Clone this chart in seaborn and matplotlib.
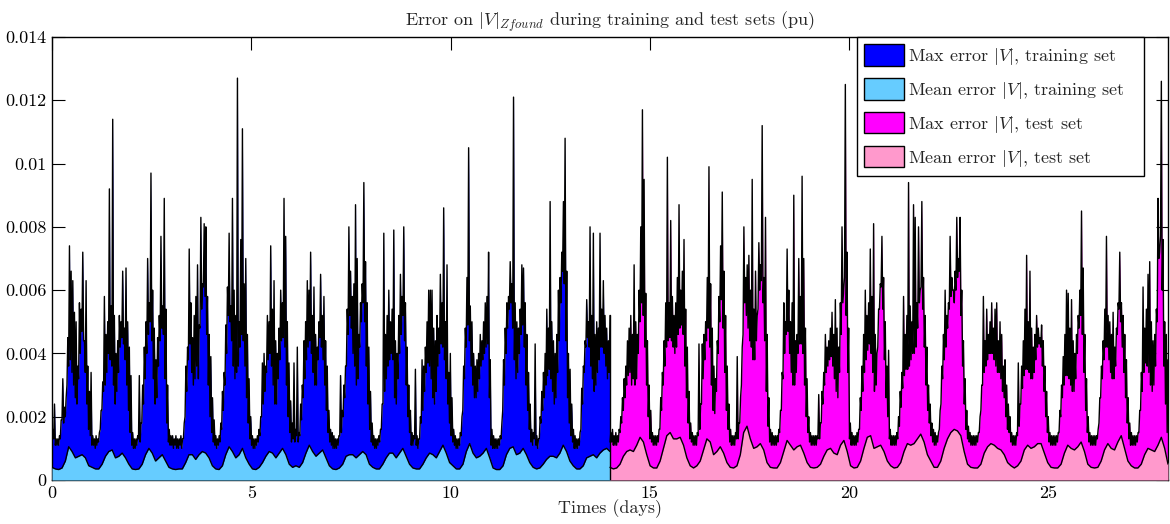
import numpy as np
import matplotlib
matplotlib.use("Agg")
import matplotlib.pyplot as plt
from matplotlib.patches import Patch
import seaborn as sns

# ---------------- data (values in 1e-3 pu) ----------------
# Hourly readings per day: "peak" = top of the spiky black max line within the hour,
# "base" = level of the solid filled max-error region within the hour.
train_max_peak = [
    [1.6, 2.4, 1.3, 1.3, 1.4, 1.9, 3.2, 2.3, 2.6, 4.5, 7.4, 6.6, 6.3, 5.3, 5.0, 3.6, 5.6, 5.4, 7.2, 4.4, 6.3, 3.6, 2.8, 3.4],
    [1.4, 1.3, 1.4, 1.3, 1.5, 2.2, 3.1, 5.8, 4.6, 5.0, 9.2, 5.5, 11.4, 5.2, 4.0, 4.4, 5.2, 5.0, 6.6, 4.8, 6.7, 5.0, 4.2, 3.3],
    [1.5, 1.3, 1.3, 1.4, 3.3, 1.8, 3.0, 4.2, 5.0, 7.0, 5.6, 9.7, 6.0, 4.8, 3.8, 4.5, 5.2, 7.7, 5.5, 8.9, 5.4, 3.0, 1.6, 1.4],
    [1.4, 1.3, 1.4, 1.3, 1.3, 1.4, 1.3, 1.8, 3.6, 4.2, 7.3, 5.6, 4.5, 5.2, 5.8, 6.8, 4.9, 8.3, 6.2, 8.1, 8.0, 5.8, 4.6, 3.9],
    [2.6, 1.9, 1.4, 1.3, 1.4, 1.8, 2.8, 3.4, 4.9, 6.1, 7.8, 5.5, 8.9, 6.0, 5.2, 12.7, 5.0, 7.6, 11.1, 6.2, 7.0, 4.6, 3.2, 2.0],
    [1.4, 1.3, 1.3, 1.4, 1.6, 2.0, 3.7, 4.0, 3.6, 5.2, 5.0, 7.4, 5.4, 6.3, 4.4, 4.0, 4.8, 6.0, 5.6, 8.9, 7.7, 5.0, 3.7, 2.5],
    [1.8, 3.7, 1.6, 4.2, 1.5, 2.4, 3.0, 4.4, 5.0, 6.3, 6.0, 7.2, 5.2, 6.1, 4.6, 4.2, 5.0, 6.5, 5.2, 5.8, 4.4, 3.6, 2.2, 1.6],
    [1.5, 1.4, 1.3, 1.3, 1.4, 3.3, 2.2, 3.0, 3.6, 5.4, 8.0, 6.6, 5.8, 6.2, 8.7, 7.0, 4.6, 5.6, 6.2, 9.4, 6.9, 5.6, 4.2, 2.8],
    [1.8, 1.4, 1.3, 1.3, 1.4, 1.6, 2.4, 7.8, 4.6, 5.2, 6.0, 5.0, 5.4, 7.9, 4.4, 4.0, 5.2, 6.5, 5.8, 8.0, 5.6, 4.2, 3.0, 2.2],
    [1.5, 1.4, 3.5, 1.4, 1.3, 2.0, 3.8, 3.6, 4.2, 5.0, 6.0, 6.0, 6.0, 4.8, 4.4, 5.2, 4.8, 6.5, 5.6, 8.6, 5.0, 6.8, 3.4, 4.0],
    [2.6, 1.6, 1.4, 1.3, 1.3, 1.5, 2.0, 3.6, 4.8, 6.4, 10.5, 5.5, 5.0, 4.0, 3.6, 3.8, 4.0, 4.6, 4.4, 5.0, 5.6, 5.8, 7.2, 3.8],
    [1.6, 1.4, 1.3, 1.3, 1.3, 1.4, 1.8, 3.8, 4.8, 5.6, 5.8, 6.9, 6.2, 12.1, 5.6, 5.0, 4.8, 5.4, 6.8, 6.7, 5.6, 4.6, 3.4, 2.4],
    [1.6, 1.5, 4.3, 1.4, 1.3, 2.0, 2.8, 3.4, 4.0, 5.4, 4.8, 8.8, 5.0, 4.4, 4.0, 4.6, 6.0, 6.4, 7.2, 8.8, 10.8, 6.6, 4.0, 3.5],
    [2.4, 1.6, 1.4, 1.3, 1.3, 1.5, 2.9, 3.6, 4.4, 5.7, 5.0, 8.0, 5.2, 7.8, 4.6, 5.0, 4.8, 7.8, 5.4, 6.3, 5.2, 4.8, 4.4, 5.2],
]
train_max_base = [
    [1.2, 1.3, 1.1, 1.1, 1.1, 1.3, 1.9, 1.8, 2.0, 3.0, 3.6, 3.8, 3.4, 3.0, 2.6, 2.4, 3.2, 4.0, 4.7, 4.4, 3.4, 2.4, 1.6, 1.4],
    [1.1, 1.1, 1.0, 1.1, 1.2, 1.6, 2.2, 2.8, 3.0, 3.4, 4.0, 3.8, 3.6, 3.0, 2.4, 2.8, 3.4, 4.2, 4.5, 4.3, 3.8, 3.0, 2.2, 1.5],
    [1.1, 1.0, 1.0, 1.1, 1.3, 1.2, 1.8, 2.4, 3.2, 4.0, 4.6, 5.0, 4.4, 3.2, 2.4, 2.6, 3.6, 4.4, 4.8, 4.6, 3.2, 1.8, 1.2, 1.1],
    [1.1, 1.0, 1.1, 1.0, 1.0, 1.1, 1.0, 1.3, 2.0, 2.8, 3.8, 4.3, 3.4, 3.0, 3.2, 3.6, 3.2, 4.8, 5.4, 6.1, 5.8, 4.6, 3.0, 2.0],
    [1.5, 1.2, 1.1, 1.0, 1.1, 1.2, 1.6, 2.2, 3.0, 4.0, 5.2, 5.0, 4.4, 3.6, 3.2, 3.4, 3.6, 4.2, 4.6, 4.4, 3.6, 2.6, 1.8, 1.3],
    [1.1, 1.0, 1.0, 1.1, 1.2, 1.4, 2.0, 2.4, 2.8, 3.4, 3.8, 4.0, 3.6, 3.0, 2.4, 2.4, 3.2, 3.8, 4.4, 4.5, 4.2, 3.0, 2.0, 1.5],
    [1.2, 1.3, 1.2, 1.4, 1.2, 1.4, 1.9, 2.6, 3.2, 3.8, 4.2, 4.4, 4.0, 3.4, 3.0, 3.0, 3.8, 4.5, 4.2, 3.8, 3.0, 2.2, 1.5, 1.2],
    [1.1, 1.0, 1.0, 1.0, 1.1, 1.4, 1.5, 2.0, 2.6, 3.6, 4.6, 5.2, 4.8, 4.0, 3.6, 3.0, 3.2, 4.2, 5.0, 5.6, 5.0, 3.6, 2.4, 1.6],
    [1.2, 1.1, 1.0, 1.0, 1.1, 1.2, 1.6, 2.4, 2.8, 3.2, 3.6, 3.8, 4.0, 3.8, 2.6, 2.4, 3.2, 4.0, 4.6, 5.2, 4.4, 3.0, 2.0, 1.5],
    [1.1, 1.1, 1.3, 1.1, 1.0, 1.3, 1.8, 2.2, 2.8, 3.4, 3.7, 3.6, 3.2, 2.6, 2.4, 2.8, 3.6, 4.0, 4.3, 4.2, 3.8, 3.2, 2.4, 1.8],
    [1.4, 1.2, 1.1, 1.0, 1.0, 1.1, 1.4, 2.2, 3.2, 4.2, 4.9, 4.4, 3.6, 3.0, 2.6, 2.6, 2.8, 3.2, 3.6, 3.8, 4.0, 4.2, 4.3, 2.6],
    [1.1, 1.0, 1.0, 1.0, 1.0, 1.1, 1.3, 2.2, 3.0, 4.0, 4.8, 5.4, 5.6, 4.8, 3.8, 3.2, 3.4, 4.0, 4.6, 4.9, 4.2, 3.0, 2.2, 1.6],
    [1.2, 1.1, 1.3, 1.1, 1.0, 1.3, 1.8, 2.2, 2.6, 3.0, 3.3, 3.5, 3.2, 2.8, 2.4, 2.6, 3.4, 4.4, 5.6, 6.6, 6.2, 4.4, 2.6, 1.8],
    [1.4, 1.2, 1.0, 1.0, 1.0, 1.1, 1.6, 2.4, 3.4, 4.2, 4.5, 4.2, 3.6, 3.2, 2.8, 3.0, 3.4, 3.8, 4.2, 4.2, 4.0, 3.6, 3.2, 3.4],
]
# Mean error, one reading every 2 hours
train_mean = [
    [0.40, 0.35, 0.33, 0.38, 0.60, 1.05, 0.90, 0.70, 0.75, 0.80, 0.70, 0.45],
    [0.40, 0.35, 0.35, 0.50, 0.75, 0.90, 0.95, 0.70, 0.75, 0.85, 0.70, 0.50],
    [0.35, 0.33, 0.35, 0.50, 0.80, 1.00, 0.85, 0.60, 0.70, 0.80, 0.60, 0.40],
    [0.35, 0.33, 0.35, 0.35, 0.55, 0.80, 0.80, 0.65, 0.80, 0.90, 0.85, 0.70],
    [0.45, 0.35, 0.33, 0.45, 0.80, 1.05, 0.90, 0.70, 0.80, 1.00, 0.70, 0.50],
    [0.35, 0.33, 0.40, 0.55, 0.75, 0.90, 0.85, 0.70, 0.85, 1.00, 0.80, 0.50],
    [0.40, 0.45, 0.40, 0.55, 0.85, 1.10, 0.90, 0.75, 0.85, 0.95, 0.70, 0.45],
    [0.35, 0.33, 0.38, 0.50, 0.75, 0.80, 0.80, 0.70, 0.80, 0.90, 0.80, 0.50],
    [0.40, 0.35, 0.35, 0.50, 0.70, 0.85, 0.85, 0.70, 0.85, 1.00, 0.75, 0.50],
    [0.38, 0.35, 0.35, 0.50, 0.70, 0.85, 0.80, 0.70, 0.90, 1.10, 0.85, 0.55],
    [0.45, 0.35, 0.35, 0.50, 0.90, 1.15, 0.85, 0.70, 0.75, 0.85, 1.00, 0.70],
    [0.38, 0.33, 0.33, 0.45, 0.80, 1.00, 1.05, 0.80, 0.85, 1.00, 0.80, 0.55],
    [0.40, 0.35, 0.38, 0.50, 0.65, 0.75, 0.75, 0.70, 0.85, 1.10, 0.90, 0.60],
    [0.45, 0.35, 0.35, 0.45, 0.70, 0.75, 0.80, 0.70, 0.85, 0.95, 1.00, 0.90],
]
test_max_peak = [
    [1.5, 1.6, 1.4, 1.5, 1.4, 1.6, 2.0, 2.6, 3.2, 3.6, 4.4, 4.8, 5.2, 4.6, 6.8, 5.0, 4.6, 6.0, 8.0, 11.7, 9.5, 5.9, 4.4, 3.0],
    [2.2, 1.5, 1.4, 1.4, 1.4, 1.6, 2.6, 3.4, 4.4, 5.6, 10.2, 5.6, 8.2, 5.8, 5.2, 5.6, 6.4, 8.7, 6.0, 6.6, 7.6, 5.4, 4.2, 2.8],
    [1.8, 1.5, 1.4, 1.4, 1.5, 4.3, 2.4, 4.3, 4.6, 5.0, 6.4, 9.9, 6.2, 4.8, 3.6, 3.2, 4.4, 5.8, 7.4, 9.1, 6.6, 5.2, 3.6, 2.4],
    [1.6, 1.4, 1.4, 1.5, 3.9, 1.8, 2.6, 4.2, 8.0, 6.4, 6.8, 7.1, 6.0, 9.5, 5.4, 6.6, 5.2, 7.5, 6.8, 11.2, 6.4, 8.3, 4.6, 2.6],
    [1.6, 1.5, 1.4, 1.4, 1.4, 1.6, 2.2, 3.4, 5.6, 5.0, 7.3, 6.0, 5.0, 5.6, 9.0, 4.4, 4.6, 7.0, 5.8, 9.6, 7.0, 4.8, 3.2, 2.0],
    [1.5, 1.4, 1.4, 1.4, 1.4, 2.7, 1.8, 2.8, 3.4, 4.6, 4.2, 4.4, 4.8, 5.3, 4.6, 5.7, 4.8, 4.2, 5.6, 8.0, 6.0, 12.5, 7.2, 4.8],
    [1.8, 1.5, 1.4, 1.4, 1.5, 1.6, 2.6, 3.6, 4.6, 6.0, 5.2, 5.6, 7.3, 5.8, 8.1, 4.6, 4.0, 5.4, 6.2, 7.7, 6.4, 5.0, 3.6, 4.1],
    [1.6, 1.4, 1.4, 1.4, 1.5, 2.0, 2.8, 3.4, 5.8, 4.6, 5.2, 9.4, 5.5, 5.0, 8.7, 8.3, 5.6, 8.0, 6.0, 8.8, 6.4, 5.2, 4.2, 3.0],
    [2.4, 1.8, 1.6, 1.5, 1.4, 1.5, 2.2, 3.6, 4.6, 6.0, 5.2, 5.6, 7.7, 6.4, 6.0, 6.6, 8.3, 7.0, 8.3, 6.0, 4.4, 3.2, 2.2, 1.7],
    [1.5, 1.4, 1.4, 1.4, 1.4, 1.5, 2.0, 3.0, 5.8, 4.4, 5.4, 4.6, 5.0, 5.6, 4.8, 5.4, 5.6, 4.4, 5.0, 4.6, 3.6, 3.8, 3.0, 2.4],
    [2.0, 1.5, 1.4, 1.4, 1.5, 3.7, 2.4, 3.6, 4.4, 5.4, 7.1, 5.0, 6.6, 4.8, 4.2, 4.6, 5.2, 4.8, 4.5, 4.9, 4.4, 3.6, 2.8, 2.0],
    [1.5, 1.4, 1.4, 1.4, 1.4, 1.5, 2.2, 3.0, 3.9, 4.6, 6.0, 5.9, 4.8, 5.7, 4.4, 4.0, 4.6, 5.2, 6.0, 8.5, 6.7, 4.6, 3.2, 2.0],
    [1.5, 1.4, 1.4, 1.4, 1.4, 1.6, 2.6, 3.6, 4.4, 5.4, 7.7, 5.2, 5.0, 4.6, 5.3, 4.2, 4.8, 5.6, 7.2, 5.6, 5.2, 4.6, 3.8, 2.6],
    [1.8, 1.5, 1.4, 1.4, 1.4, 1.5, 2.2, 3.4, 6.1, 4.8, 5.4, 6.5, 6.9, 5.0, 4.4, 4.6, 5.4, 8.9, 7.2, 12.6, 7.6, 5.0, 4.6, 3.8],
]
test_max_base = [
    [1.2, 1.2, 1.1, 1.1, 1.1, 1.2, 1.5, 1.8, 2.2, 2.6, 3.0, 3.3, 3.4, 3.0, 3.2, 3.0, 3.2, 4.0, 5.0, 5.6, 5.2, 4.2, 3.0, 2.0],
    [1.3, 1.2, 1.1, 1.1, 1.1, 1.2, 1.6, 2.2, 3.0, 3.6, 4.2, 4.4, 4.5, 4.4, 4.2, 4.0, 4.2, 4.6, 4.8, 4.9, 4.6, 3.6, 2.6, 1.8],
    [1.3, 1.2, 1.1, 1.1, 1.1, 1.4, 1.6, 2.4, 3.2, 3.8, 4.4, 4.8, 4.2, 3.0, 2.2, 2.1, 2.8, 4.0, 5.0, 5.7, 4.8, 3.4, 2.2, 1.6],
    [1.2, 1.1, 1.1, 1.1, 1.3, 1.3, 1.8, 3.0, 4.6, 5.6, 5.2, 4.8, 4.4, 4.2, 3.8, 3.8, 4.4, 5.4, 6.0, 6.3, 5.6, 4.4, 2.8, 1.7],
    [1.2, 1.1, 1.1, 1.1, 1.1, 1.2, 1.5, 2.2, 3.2, 4.0, 4.6, 4.7, 4.0, 3.4, 3.0, 3.0, 3.4, 4.0, 4.3, 4.3, 4.0, 3.0, 2.0, 1.5],
    [1.2, 1.1, 1.1, 1.1, 1.1, 1.3, 1.3, 1.8, 2.4, 3.0, 3.4, 3.6, 3.8, 3.9, 3.6, 3.2, 2.8, 2.6, 3.4, 4.6, 5.6, 6.4, 5.2, 3.4],
    [1.3, 1.1, 1.1, 1.1, 1.1, 1.2, 1.6, 2.2, 2.8, 3.4, 3.8, 4.1, 4.3, 4.0, 3.4, 2.8, 3.0, 4.2, 5.4, 6.1, 5.4, 3.8, 2.6, 2.0],
    [1.3, 1.1, 1.1, 1.1, 1.1, 1.3, 1.7, 2.3, 2.9, 3.3, 3.5, 3.5, 3.6, 3.8, 4.0, 4.0, 4.2, 4.8, 5.6, 6.1, 5.4, 4.2, 3.0, 2.2],
    [1.8, 1.4, 1.2, 1.1, 1.1, 1.2, 1.6, 2.4, 3.2, 3.8, 4.2, 4.8, 5.4, 5.8, 6.0, 5.6, 6.0, 6.4, 6.6, 5.2, 3.6, 2.4, 1.6, 1.3],
    [1.2, 1.1, 1.1, 1.1, 1.1, 1.2, 1.5, 2.2, 3.0, 3.4, 3.6, 3.8, 4.0, 4.0, 4.0, 3.8, 3.6, 3.4, 3.4, 3.2, 2.8, 2.6, 2.0, 1.6],
    [1.5, 1.2, 1.1, 1.1, 1.1, 1.4, 1.7, 2.4, 2.9, 3.3, 3.5, 3.5, 3.4, 3.2, 3.2, 3.4, 3.8, 4.2, 4.3, 4.2, 3.6, 2.8, 2.0, 1.5],
    [1.2, 1.1, 1.1, 1.1, 1.1, 1.2, 1.5, 2.0, 2.6, 3.0, 3.3, 3.3, 3.2, 3.0, 2.8, 2.8, 3.2, 4.0, 4.8, 5.2, 4.6, 3.4, 2.2, 1.5],
    [1.2, 1.1, 1.1, 1.1, 1.1, 1.3, 1.8, 2.6, 3.2, 3.8, 4.2, 4.2, 3.8, 3.4, 3.2, 3.2, 3.6, 4.6, 5.4, 5.0, 4.2, 3.4, 2.6, 1.8],
    [1.3, 1.1, 1.1, 1.1, 1.1, 1.2, 1.5, 2.2, 2.8, 3.4, 3.7, 3.6, 3.4, 3.0, 2.8, 3.0, 3.6, 5.0, 7.0, 7.7, 6.0, 3.6, 2.4, 1.5],
]
test_mean = [
    [0.40, 0.35, 0.38, 0.50, 0.75, 0.90, 0.95, 0.90, 1.10, 1.35, 1.20, 0.80],
    [0.45, 0.38, 0.38, 0.60, 1.00, 1.40, 1.50, 1.30, 1.30, 1.35, 1.10, 0.70],
    [0.45, 0.38, 0.45, 0.60, 0.95, 1.30, 1.20, 0.80, 0.90, 1.05, 0.85, 0.55],
    [0.40, 0.38, 0.45, 0.80, 1.50, 1.70, 1.30, 1.00, 1.05, 1.15, 0.95, 0.55],
    [0.40, 0.38, 0.38, 0.55, 0.90, 1.25, 1.10, 0.95, 1.05, 1.10, 0.85, 0.55],
    [0.40, 0.38, 0.40, 0.50, 0.75, 0.95, 1.00, 0.85, 0.80, 1.10, 1.25, 0.90],
    [0.45, 0.38, 0.40, 0.60, 1.00, 1.35, 1.40, 1.00, 1.05, 1.10, 0.90, 0.60],
    [0.45, 0.38, 0.40, 0.55, 0.90, 1.15, 1.10, 1.15, 1.30, 1.45, 1.20, 0.80],
    [0.60, 0.40, 0.40, 0.60, 1.00, 1.30, 1.50, 1.60, 1.55, 1.40, 0.90, 0.50],
    [0.40, 0.38, 0.38, 0.50, 0.85, 1.05, 1.15, 1.10, 1.00, 0.95, 0.80, 0.55],
    [0.45, 0.38, 0.45, 0.60, 0.95, 1.10, 1.00, 1.05, 1.15, 1.15, 0.85, 0.55],
    [0.40, 0.38, 0.38, 0.50, 0.85, 1.10, 1.00, 0.95, 1.05, 1.20, 0.90, 0.50],
    [0.40, 0.38, 0.40, 0.60, 0.95, 1.15, 1.00, 0.95, 1.20, 1.40, 1.00, 0.60],
    [0.45, 0.38, 0.38, 0.50, 0.80, 1.00, 0.95, 0.90, 1.10, 1.35, 1.00, 0.50],
]

legend_labels = [
    r"Max error $|V|$, training set",
    r"Mean error $|V|$, training set",
    r"Max error $|V|$, test set",
    r"Mean error $|V|$, test set",
]
xtick_values = [0, 5, 10, 15, 20, 25]
ytick_values = [0, 0.002, 0.004, 0.006, 0.008, 0.010, 0.012, 0.014]
ytick_labels = ["0", "0.002", "0.004", "0.006", "0.008", "0.01", "0.012", "0.014"]
title_text = r"Error on $|V|_{Zfound}$ during training and test sets (pu)"
xlabel_text = "Times (days)"

# ---------------- styling ----------------
sns.set_theme(style="white")
plt.rcParams.update({
    "font.family": ["cmr10", "DejaVu Serif"],
    "mathtext.fontset": "cm",
    "axes.formatter.use_mathtext": True,
    "axes.unicode_minus": False,
    "axes.edgecolor": "black",
    "axes.linewidth": 1.0,
})

FS = 13
C_MAX_TR = "#0000FF"
C_MEAN_TR = "#66CCFF"
C_MAX_TE = "#FF00FF"
C_MEAN_TE = "#FF99CC"


def interleave(base, peak):
    b = np.ravel(np.array(base, dtype=float))
    p = np.ravel(np.array(peak, dtype=float))
    out = np.empty(b.size + p.size)
    out[0::2] = b
    out[1::2] = p
    return out * 1e-3


y_tr_max = interleave(train_max_base, train_max_peak)
y_te_max = interleave(test_max_base, test_max_peak)
y_tr_mean = np.ravel(np.array(train_mean)) * 1e-3
y_te_mean = np.ravel(np.array(test_mean)) * 1e-3

x_tr_max = np.linspace(0, 14, y_tr_max.size)
x_te_max = np.linspace(14, 28, y_te_max.size)
x_tr_mean = np.linspace(0, 14, y_tr_mean.size)
x_te_mean = np.linspace(14, 28, y_te_mean.size)

fig = plt.figure(figsize=(11.7, 5.24), dpi=100)
ax = fig.add_axes([52 / 1170, 44 / 524, 1116 / 1170, 443 / 524])

for x, y, c in [(x_tr_max, y_tr_max, C_MAX_TR), (x_te_max, y_te_max, C_MAX_TE)]:
    ax.fill_between(x, y, 0, color=c, lw=0, zorder=1)
    sns.lineplot(x=x, y=y, color="black", lw=1.0, estimator=None, sort=False, ax=ax, zorder=2)

for x, y, c in [(x_tr_mean, y_tr_mean, C_MEAN_TR), (x_te_mean, y_te_mean, C_MEAN_TE)]:
    ax.fill_between(x, y, 0, color=c, lw=0, zorder=3)
    sns.lineplot(x=x, y=y, color="black", lw=1.0, estimator=None, sort=False, ax=ax, zorder=4)

# vertical separation at the end of the training set
ax.plot([14, 14], [0, y_tr_max[-1]], color="black", lw=1.0, zorder=4)

ax.set_xlim(0, 28)
ax.set_ylim(0, 0.014)
ax.set_xticks(xtick_values)
ax.set_xticklabels([str(v) for v in xtick_values])
ax.set_yticks(ytick_values)
ax.set_yticklabels(ytick_labels)
ax.tick_params(axis="both", which="both", direction="in", length=9, width=0.8,
               top=True, right=True, bottom=True, left=True,
               labelsize=FS, colors="black", pad=4)
ax.set_xlabel(xlabel_text, fontsize=FS, labelpad=-1)
ax.set_ylabel("")
ax.set_title(title_text, fontsize=FS, pad=8)
ax.grid(False)
for s in ax.spines.values():
    s.set_visible(True)
    s.set_color("black")
    s.set_linewidth(1.0)

handles = [Patch(facecolor=c, edgecolor="black", lw=1.0)
           for c in [C_MAX_TR, C_MEAN_TR, C_MAX_TE, C_MEAN_TE]]
leg_x0 = (857 - 52) / 1116
leg_w = (1144 - 857) / 1116
leg = ax.legend(handles, legend_labels, loc="upper left",
                bbox_to_anchor=(leg_x0, 0.0, leg_w, 1.0), mode="expand",
                borderaxespad=0,
                fontsize=FS, handlelength=2.2, handleheight=1.45,
                handletextpad=0.2, labelspacing=0.62, borderpad=0.4,
                frameon=True, fancybox=False, framealpha=1)
leg.get_frame().set_edgecolor("black")
leg.get_frame().set_linewidth(1.0)
leg.set_zorder(10)

fig.savefig("out.png", dpi=100)
